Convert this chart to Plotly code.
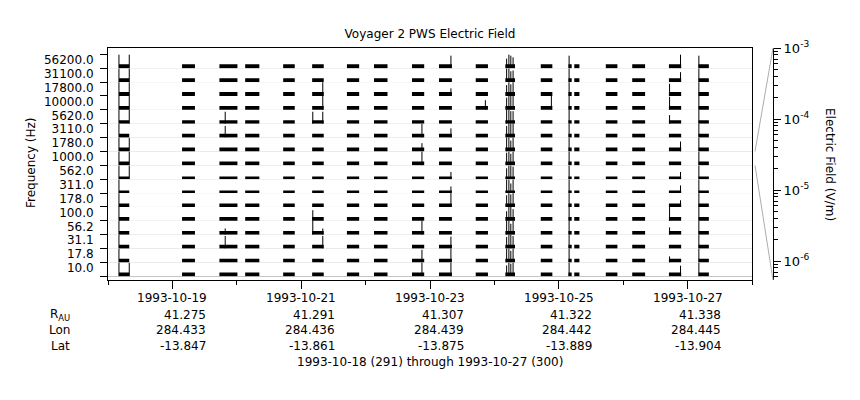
import datetime as dt
import numpy as np
import plotly.graph_objects as go

# ---------------- data ----------------
freq_labels = ['10.0', '17.8', '31.1', '56.2', '100.0', '178.0', '311.0', '562.0',
               '1000.0', '1780.0', '3110.0', '5620.0', '10000.0', '17800.0', '31100.0', '56200.0']

# background noise band of each channel (V/m), bottom channel first
noise_lo = [5.0e-7] * 16
noise_hi = [4.5e-6, 4.0e-6, 4.5e-6, 4.0e-6, 4.5e-6, 3.5e-6, 2.2e-6, 2.2e-6,
            4.5e-6, 4.5e-6, 4.5e-6, 3.5e-6, 4.5e-6, 4.5e-6, 4.5e-6, 4.5e-6]

# data-coverage intervals, days after 1993-10-18 00:00
seg_start_day = [0.17, 1.15, 1.73, 2.13, 2.72, 3.17, 3.71, 4.13, 4.72, 5.14,
                 5.71, 6.17, 6.72, 7.15, 7.24, 7.73, 8.14, 8.71, 9.17]
seg_end_day = [0.33, 1.35, 2.01, 2.35, 2.90, 3.35, 3.90, 4.34, 4.91, 5.34,
               5.90, 6.32, 6.90, 7.20, 7.32, 7.91, 8.34, 8.90, 9.33]

# broadband events seen in every channel (peak V/m per channel, bottom first)
burst_day = [0.17, 6.19, 6.225, 6.255, 6.29, 7.16, 9.175]
burst_peak = [
    [1e-3] * 16,
    [2e-4, 1e-3, 3e-4, 1e-3, 1e-4, 3e-4, 1e-3, 2e-4, 5e-4, 1e-3, 3e-4, 1e-3, 4e-4, 2e-4, 1e-3, 1e-4],
    [1e-3, 1e-3, 1e-3, 1e-3, 1e-3, 1e-3, 1e-3, 1e-3, 1e-3, 1e-3, 1e-3, 1e-3, 1e-3, 1e-3, 1e-3, 1e-3],
    [5e-4, 3e-4, 1e-3, 2e-4, 1e-3, 5e-4, 1e-4, 1e-3, 3e-4, 2e-4, 1e-3, 5e-4, 1e-3, 3e-4, 2e-4, 5e-4],
    [1e-3, 1e-3, 5e-4, 1e-3, 3e-4, 1e-3, 1e-3, 5e-4, 1e-3, 1e-3, 1e-3, 5e-4, 1e-3, 1e-3, 3e-4, 2e-4],
    [1e-3] * 15 + [5e-4],
    [1e-3] * 15 + [5e-4],
]

# isolated spikes: day, channel index (0 = 10 Hz), peak V/m
spike_day = [0.33, 0.33, 0.33, 0.33, 0.33, 0.33, 0.33, 0.33, 0.33,
             1.82, 1.82, 1.82, 1.82,
             3.18, 3.18, 3.18,
             3.335, 3.335, 3.335, 3.335, 3.335,
             4.875, 4.875, 4.875, 4.875, 4.875, 4.875,
             5.325, 5.325, 5.325, 5.325, 5.325, 5.325, 5.325, 5.325, 5.325,
             5.86, 6.885,
             8.72, 8.72, 8.72, 8.72, 8.72, 8.72,
             8.89, 8.89, 8.89, 8.89, 8.89, 8.89, 8.89]
spike_chan = [15, 14, 13, 12, 11, 9, 8, 7, 0,
              11, 10, 3, 2,
              11, 4, 3,
              13, 12, 11, 3, 2,
              10, 9, 8, 3, 1, 0,
              15, 13, 10, 7, 6, 5, 2, 1, 0,
              12, 12,
              13, 12, 11, 4, 3, 1,
              15, 14, 9, 7, 6, 5, 0]
spike_peak = [1e-3, 1e-3, 1e-3, 1e-3, 1e-3, 1e-3, 1e-3, 1e-3, 1e-3,
              3.6e-4, 3.0e-4, 1.6e-5, 5e-4,
              3.6e-4, 1.7e-4, 1e-3,
              1e-3, 1e-3, 3.6e-4, 1.6e-5, 5e-4,
              1e-3, 4.9e-5, 1e-3, 1e-3, 5e-4, 1e-3,
              5e-4, 3.4e-5, 8e-5, 2.8e-5, 2.0e-5, 1e-3, 3.6e-4, 1e-3, 1e-3,
              1e-4, 1e-3,
              4.2e-4, 6.5e-4, 5.8e-5, 1e-3, 2.8e-5, 1.4e-5,
              1e-3, 1.2e-4, 1.2e-4, 2.8e-5, 3.4e-5, 2e-5, 1.7e-4]

# ephemeris rows under the axis
tick_dates = ['1993-10-19', '1993-10-21', '1993-10-23', '1993-10-25', '1993-10-27']
r_au = ['41.275', '41.291', '41.307', '41.322', '41.338']
lon = ['284.433', '284.436', '284.439', '284.442', '284.445']
lat = ['-13.847', '-13.861', '-13.875', '-13.889', '-13.904']
row_labels = ['R<sub>AU</sub>', 'Lon', 'Lat']

# ---------------- layout geometry (reference pixel positions) ----------------
OFF = 8                   # page body margin that the browser adds
W, H = 860 - OFF, 400 - OFF
PLOT_L, PLOT_R, PLOT_T, PLOT_B = 108, 752, 48, 280
AXR = 773                 # px of the field axis
ML = PLOT_L - OFF
MT = PLOT_T - OFF
MB = H - (PLOT_B - OFF)
MR = W - (AXR - OFF)
PH = PLOT_B - PLOT_T      # plot height in px
PW = AXR - PLOT_L         # paper width in px
XDOM = (PLOT_R - PLOT_L) / PW
BAND0 = 3.7               # px from plot bottom to first band base
BANDH = 13.87             # px per channel band
EMIN, EMAX = 5.4e-7, 1e-3
NCH = len(freq_labels)
YR = [-BAND0 / BANDH, (PH - BAND0) / BANDH]
GRID = '#adadad'

base = dt.datetime(1993, 10, 18)


def d(day):
    return base + dt.timedelta(days=day)


def band_dom(i):
    return [(BAND0 + BANDH * i) / PH, (BAND0 + BANDH * (i + 1)) / PH]


def px_x(px):
    return (px - PLOT_L) / PW


def px_y(px):
    return (PLOT_B - px) / PH


fig = go.Figure()

# empty carriers so that the label, grid and field axes get drawn
for ax in ['y', 'y19', 'y18']:
    fig.add_trace(go.Scatter(x=[None], y=[None], yaxis=ax, mode='lines',
                             showlegend=False, hoverinfo='skip'))

for i in range(NCH):
    xs, ys = [], []
    for s, e in zip(seg_start_day, seg_end_day):
        xs += [d(s), d(s), d(e), d(e), None]
        ys += [noise_lo[i], noise_hi[i], noise_hi[i], noise_lo[i], None]
    fig.add_trace(go.Scatter(x=xs, y=ys, mode='lines', fill='toself',
                             fillcolor='black', line=dict(width=0, color='black'),
                             yaxis=f'y{i + 2}', showlegend=False, hoverinfo='skip'))
    sx, sy = [], []
    for t, pk in zip(burst_day, burst_peak):
        if pk[i] > 0:
            sx += [d(t), d(t), None]
            sy += [noise_lo[i], pk[i], None]
    for t, c, pk in zip(spike_day, spike_chan, spike_peak):
        if c == i:
            sx += [d(t), d(t), None]
            sy += [noise_lo[i], pk, None]
    fig.add_trace(go.Scatter(x=sx, y=sy, mode='lines',
                             line=dict(width=1, color='black'),
                             yaxis=f'y{i + 2}', showlegend=False, hoverinfo='skip'))

layout = dict(
    width=W, height=H, template='none',
    margin=dict(l=ML, r=MR, t=MT, b=MB, pad=0),
    paper_bgcolor='white', plot_bgcolor='white',
    font=dict(family='DejaVu Sans', size=12, color='black'),
    showlegend=False,
    title=dict(text='Voyager 2 PWS Electric Field', x=(430 - OFF) / W, xref='container',
               xanchor='center', y=1 - (34 - OFF) / H, yanchor='middle', font=dict(size=12)),
    xaxis=dict(type='date', domain=[0, XDOM], range=[d(0), d(10)], anchor='y',
               tickmode='array', tickvals=[d(k) for k in range(1, 10, 2)],
               showticklabels=False, ticks='outside', ticklen=8, tickcolor='black',
               minor=dict(tickmode='array', tickvals=[d(k) for k in range(0, 11)],
                          ticks='outside', ticklen=4, tickcolor='black', showgrid=False),
               showgrid=False, zeroline=False, showline=True, linecolor='black',
               linewidth=1, mirror=True, automargin=False),
    yaxis=dict(domain=[0, 1], range=YR, anchor='x',
               tickmode='array', tickvals=[k + 0.6 for k in range(NCH)],
               ticktext=freq_labels, ticks='outside', ticklen=11,
               tickcolor='rgba(0,0,0,0)',
               minor=dict(tickmode='array', tickvals=list(range(NCH + 1)),
                          ticks='outside', ticklen=7, tickcolor='black', showgrid=False),
               showgrid=False, zeroline=False, showline=True, linecolor='black',
               linewidth=1, mirror=True, automargin=False,
               tickfont=dict(size=12)),
    yaxis19=dict(overlaying='y', anchor='x', range=YR,
                 tickmode='array', tickvals=list(range(NCH)), showticklabels=False,
                 ticks='', showgrid=True, gridcolor=GRID, gridwidth=1,
                 zeroline=False, showline=False, automargin=False),
    yaxis18=dict(overlaying='y', anchor='free', position=1.0, side='right',
                 type='log', range=[np.log10(EMIN), np.log10(EMAX)],
                 tickmode='array', tickvals=[1e-6, 1e-5, 1e-4, 1e-3],
                 ticktext=['10<sup>-6</sup>', '10<sup>-5</sup>', '10<sup>-4</sup>', '10<sup>-3</sup>'],
                 ticks='outside', ticklen=7, tickcolor='black',
                 minor=dict(tickmode='array',
                            tickvals=[m * 10.0 ** e for e in range(-7, -3) for m in range(2, 10)],
                            ticks='outside', ticklen=4, tickcolor='black', showgrid=False),
                 showgrid=False, zeroline=False, showline=True, linecolor='black',
                 linewidth=1, automargin=False, tickfont=dict(size=13)),
)
for i in range(NCH):
    layout[f'yaxis{i + 2}'] = dict(type='log', range=[np.log10(EMIN), np.log10(EMAX)],
                                   domain=band_dom(i), anchor='x', visible=False,
                                   showgrid=False, zeroline=False)

ann = []
ann.append(dict(text='Frequency (Hz)', textangle=-90, xref='paper', yref='paper',
                x=px_x(31), y=px_y(163), xanchor='center', yanchor='middle',
                showarrow=False, font=dict(size=12)))
ann.append(dict(text='Electric Field (V/m)', textangle=90, xref='paper', yref='paper',
                x=px_x(830), y=px_y(164), xanchor='center', yanchor='middle',
                showarrow=False, font=dict(size=12)))
row_y = [298, 314.5, 330, 345.5]
for k, day in enumerate(tick_dates):
    xd = dt.datetime.strptime(day, '%Y-%m-%d')
    ann.append(dict(text=day, xref='x', yref='paper', x=xd, y=px_y(row_y[0]),
                    xanchor='center', yanchor='middle', showarrow=False))
    for r, val in enumerate([r_au[k], lon[k], lat[k]]):
        ann.append(dict(text=val, xref='x', yref='paper', x=xd, xshift=35.5,
                        y=px_y(row_y[r + 1]),
                        xanchor='right', yanchor='middle', showarrow=False))
for r, lab in enumerate(row_labels):
    ann.append(dict(text=lab, xref='paper', yref='paper', x=px_x(72),
                    y=px_y(row_y[r + 1]), xanchor='right', yanchor='middle',
                    showarrow=False))
ann.append(dict(text='1993-10-18 (291) through 1993-10-27 (300)', xref='paper', yref='paper',
                x=px_x(430), y=px_y(362), xanchor='center', yanchor='middle',
                showarrow=False))
layout['annotations'] = ann

# expansion lines linking the 1000 Hz band to the field axis
bd = band_dom(freq_labels.index('1000.0'))
layout['shapes'] = [
    dict(type='line', xref='paper', yref='paper', x0=px_x(755), y0=bd[1], x1=1.0, y1=1,
         line=dict(color=GRID, width=1)),
    dict(type='line', xref='paper', yref='paper', x0=px_x(755), y0=bd[0], x1=1.0, y1=0,
         line=dict(color=GRID, width=1)),
]

fig.update_layout(**layout)
fig.write_html('out.html')
